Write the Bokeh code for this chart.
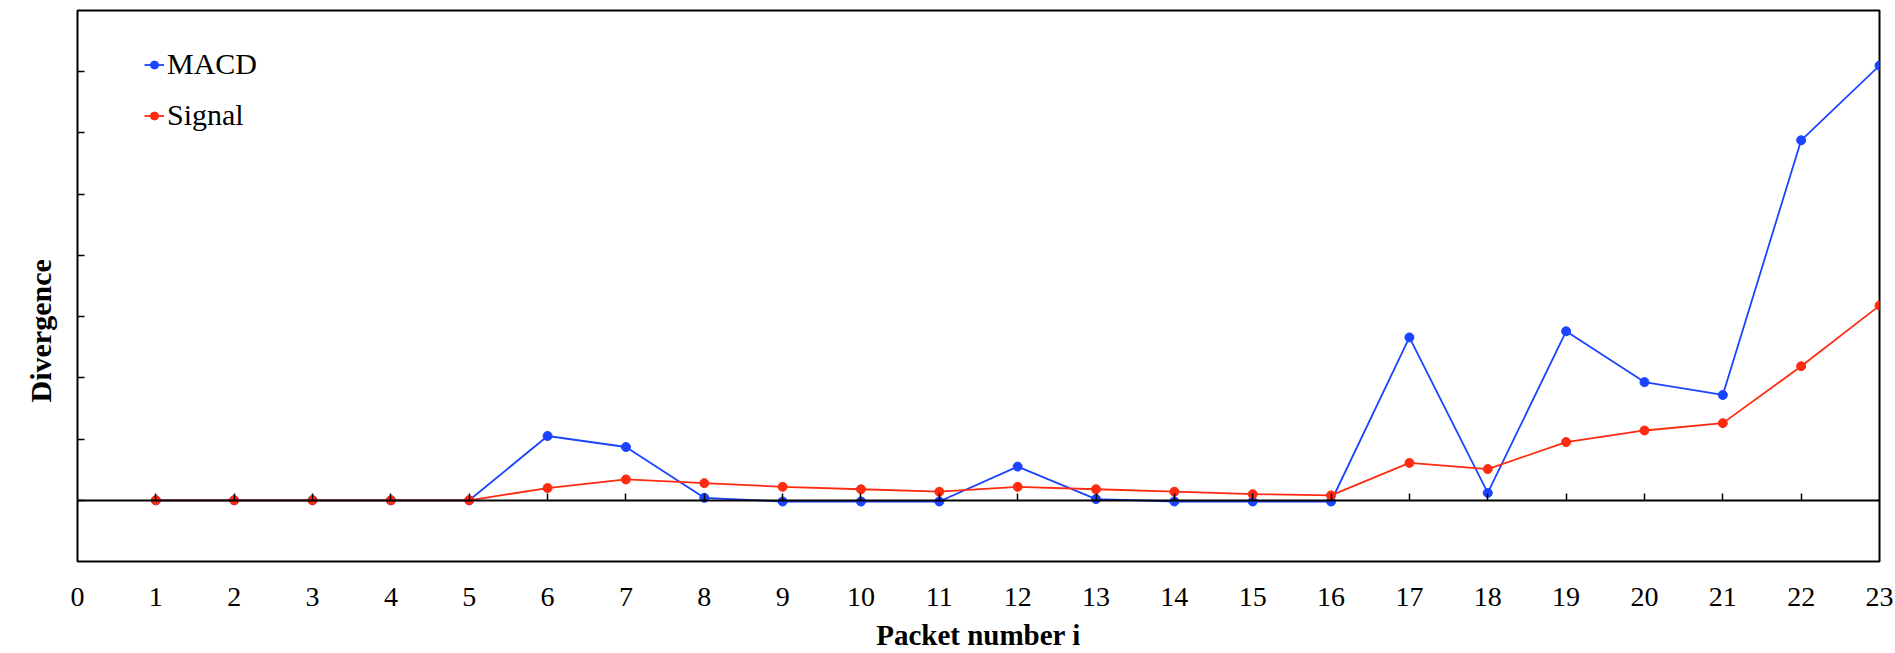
from bokeh.plotting import figure
from bokeh.models import LinearAxis, FixedTicker, Range1d, Legend, LegendItem, Title
from bokeh.embed import file_html
from bokeh.resources import INLINE

# ---- data ----
packets = list(range(1, 24))
macd = [0, 0, 0, 0, 0, 1.05, 0.87, 0.04, -0.02, -0.02, -0.02, 0.55, 0.02,
        -0.02, -0.02, -0.02, 2.66, 0.12, 2.76, 1.93, 1.72, 5.88, 7.10]
signal = [0, 0, 0, 0, 0, 0.20, 0.34, 0.28, 0.22, 0.18, 0.14, 0.22, 0.18,
          0.14, 0.10, 0.08, 0.61, 0.51, 0.95, 1.14, 1.26, 2.19, 3.18]
x_ticks = list(range(0, 24))
zero_ticks = list(range(1, 23))
y_ticks = list(range(0, 8))

FONT = "Liberation Serif"
BLUE = "#1a44ff"
RED = "#ff2b10"

p = figure(width=1895, height=653, output_backend="svg", toolbar_location=None,
           x_range=Range1d(0, 23), y_range=Range1d(-1, 8),
           min_border_left=75, min_border_right=16, min_border_top=10,
           min_border_bottom=92)
p.grid.visible = False
p.outline_line_color = "black"
p.outline_line_width = 2
p.outline_line_alpha = 1
p.background_fill_color = "white"
p.border_fill_color = "white"

# x axis (bottom, tick labels + title)
xa = p.xaxis[0]
xa.ticker = FixedTicker(ticks=x_ticks)
xa.major_tick_in = 0
xa.major_tick_out = 0
xa.minor_tick_line_color = None
xa.axis_line_color = None
xa.major_label_text_font = FONT
xa.major_label_text_font_size = "28px"
xa.major_label_text_color = "black"
xa.major_label_standoff = 26
xa.axis_label = "Packet number i"
xa.axis_label_text_font = FONT
xa.axis_label_text_font_style = "bold"
xa.axis_label_text_font_size = "29px"
xa.axis_label_text_color = "black"
xa.axis_label_standoff = 10

# y axis (left, ticks inside, no tick labels)
ya = p.yaxis[0]
ya.ticker = FixedTicker(ticks=y_ticks)
ya.major_tick_in = 7
ya.major_tick_out = 0
ya.major_tick_line_width = 1.5
ya.major_tick_line_color = "black"
ya.minor_tick_line_color = None
ya.axis_line_color = None
ya.major_label_text_color = None
ya.major_label_text_font_size = "1px"
ya.major_label_standoff = 0

# y title (placed lower than centre, as in the reference)
ytitle = Title(text="Divergence", align="left", offset=159, standoff=42,
               vertical_align="bottom",
               text_font=FONT, text_font_style="bold",
               text_font_size="30px", text_color="black")
p.add_layout(ytitle, "left")

# zero line with upward ticks
za = LinearAxis(fixed_location=0, ticker=FixedTicker(ticks=zero_ticks))
za.major_tick_in = 0
za.major_tick_out = 7
za.major_tick_line_width = 1.5
za.major_tick_line_color = "black"
za.minor_tick_line_color = None
za.axis_line_color = "black"
za.axis_line_width = 1.8
za.major_label_text_color = None
za.major_label_text_font_size = "1px"
za.major_label_standoff = 0
p.add_layout(za, "above")

# series
l1 = p.line(packets, macd, line_color=BLUE, line_width=1.8)
s1 = p.scatter(packets, macd, marker="circle", size=9, fill_color=BLUE, line_color=BLUE)
l2 = p.line(packets, signal, line_color=RED, line_width=1.8)
s2 = p.scatter(packets, signal, marker="circle", size=9, fill_color=RED, line_color=RED)

legend = Legend(items=[LegendItem(label="MACD", renderers=[l1, s1]),
                       LegendItem(label="Signal", renderers=[l2, s2])],
                location=(67, 429), padding=0, margin=0, spacing=17,
                glyph_width=20, glyph_height=33, label_height=33,
                label_standoff=3,
                label_text_font=FONT, label_text_font_size="30px",
                label_text_color="black",
                border_line_color=None, background_fill_alpha=0)
p.add_layout(legend)

open("out.html", "w").write(file_html(p, INLINE))
